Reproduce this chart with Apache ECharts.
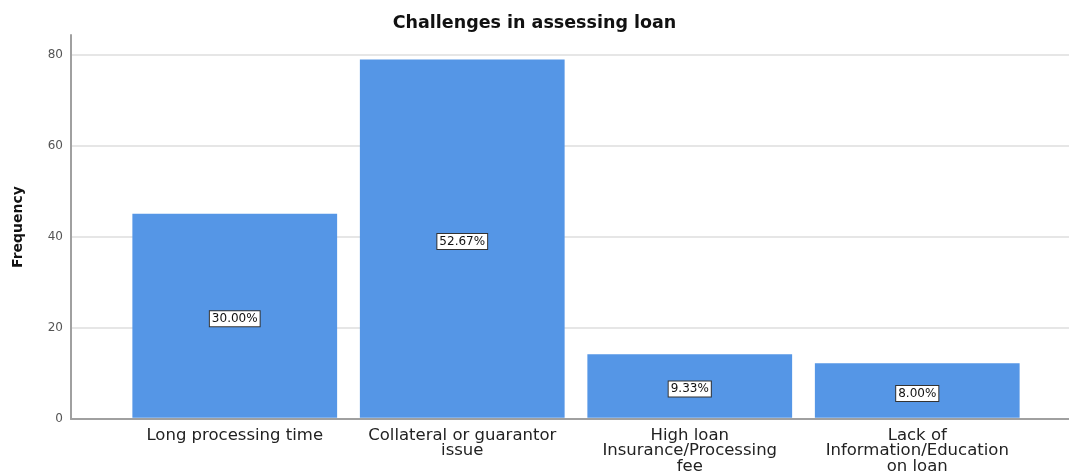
<!DOCTYPE html>
<html>
<head>
<meta charset="utf-8">
<script src="https://cdn.jsdelivr.net/npm/echarts@6/dist/echarts.min.js"></script>
<style>
html,body{margin:0;padding:0;background:#fff;}
#chart{width:1069px;height:475px;}
</style>
</head>
<body>
<div id="chart"></div>
<script>
const title = 'Challenges in assessing loan';
const categories = [
  'Long processing time',
  'Collateral or guarantor\nissue',
  'High loan\nInsurance/Processing\nfee',
  'Lack of\nInformation/Education\non loan'
];
const frequencies = [45, 79, 14, 12];
const yTicks = [0, 20, 40, 60, 80];
const yAxisName = 'Frequency';

const total = frequencies.reduce((a, b) => a + b, 0);
const yMax = 84.4;

const chart = echarts.init(document.getElementById('chart'), null, {renderer: 'canvas'});
chart.setOption({
  animation: false,
  backgroundColor: '#ffffff',
  title: {
    text: title,
    left: 'center',
    top: 9,
    textStyle: {fontFamily: 'DejaVu Sans', fontWeight: 'bold', fontSize: 17.5, color: '#111'}
  },
  grid: [
    {left: 71, right: 0, top: 35, bottom: 56},
    {left: 121, right: 38, top: 35, bottom: 56}
  ],
  xAxis: [
    {
      type: 'value', gridIndex: 0, min: 0, max: 1,
      axisLine: {show: true, onZero: false, lineStyle: {color: '#a0a0a0', width: 2}},
      axisTick: {show: false}, axisLabel: {show: false}, splitLine: {show: false}
    },
    {
      type: 'category', gridIndex: 1, data: categories,
      axisLine: {show: false}, axisTick: {show: false},
      axisLabel: {
        interval: 0, margin: 10, color: '#222',
        fontFamily: 'DejaVu Sans', fontSize: 16.5, lineHeight: 15.5
      }
    }
  ],
  yAxis: [
    {
      type: 'value', gridIndex: 0, min: 0, max: yMax, interval: 20,
      name: yAxisName, nameLocation: 'middle', nameGap: 46,
      nameTextStyle: {fontFamily: 'DejaVu Sans', fontWeight: 'bold', fontSize: 14, color: '#111'},
      axisLine: {show: true, lineStyle: {color: '#a0a0a0', width: 2}},
      axisTick: {show: false},
      axisLabel: {
        margin: 8, color: '#555', fontFamily: 'DejaVu Sans', fontSize: 12,
        showMaxLabel: false,
        formatter: v => (yTicks.indexOf(v) >= 0 ? String(v) : '')
      },
      splitLine: {show: true, showMaxLine: false, lineStyle: {color: '#e6e6e6', width: 2}}
    },
    {
      type: 'value', gridIndex: 1, min: 0, max: yMax, interval: 20,
      axisLine: {show: false}, axisTick: {show: false}, axisLabel: {show: false},
      splitLine: {show: false}
    }
  ],
  series: [{
    type: 'bar',
    xAxisIndex: 1, yAxisIndex: 1,
    data: frequencies,
    barCategoryGap: '10%',
    itemStyle: {color: '#5596e6'},
    label: {
      show: true, position: 'inside', offset: [0, 3],
      formatter: p => (p.value / total * 100).toFixed(2) + '%',
      color: '#111', fontFamily: 'DejaVu Sans', fontSize: 12,
      backgroundColor: '#ffffff', borderColor: '#333', borderWidth: 1,
      padding: [2, 2, 1, 2]
    }
  }]
});
</script>
</body>
</html>
